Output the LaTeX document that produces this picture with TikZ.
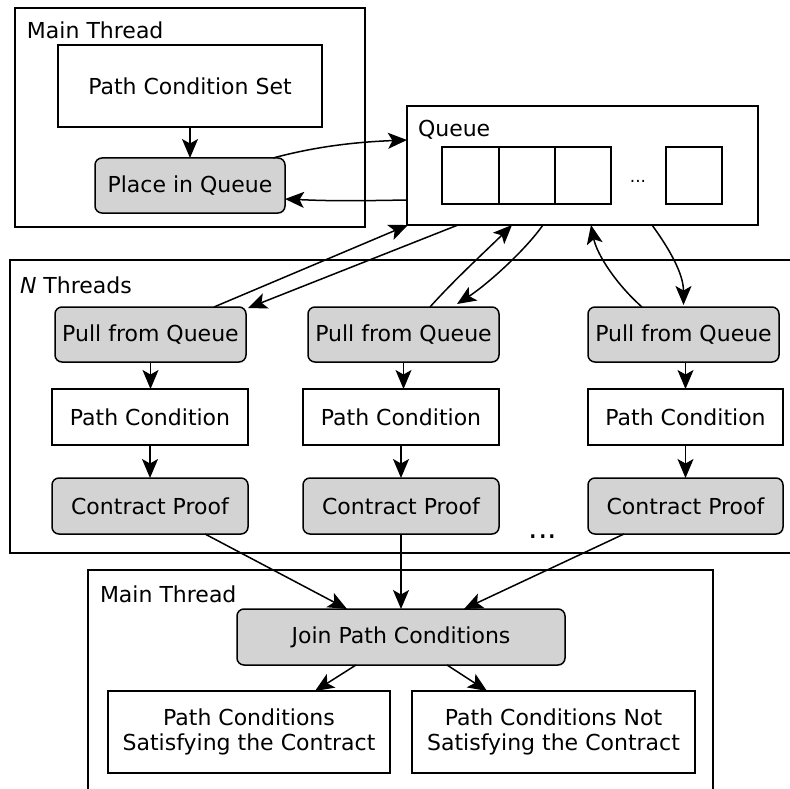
\documentclass[tikz,border=0pt]{standalone}
\usepackage{fontspec}
\setmainfont{DejaVu Sans}
\usetikzlibrary{arrows.meta}
\begin{document}
\begin{tikzpicture}[x=1pt,y=-1pt,
  every node/.style={inner sep=0pt,outer sep=0pt,font=\fontsize{22}{25}\selectfont},
  frame/.style={draw,line width=1.5pt,rectangle},
  wbox/.style={draw,line width=1.5pt,rectangle,fill=white,align=center},
  gbox/.style={draw,line width=1.5pt,rectangle,rounded corners=7pt,fill=gfill,align=center},
  cell/.style={draw,line width=1.5pt,rectangle,minimum width=56pt,minimum height=57pt},
  lbl/.style={anchor=base west},
  conn/.style={line width=1.5pt,-{Stealth[length=19pt,width=16pt,inset=4.5pt]}}
]
\definecolor{gfill}{RGB}{211,211,211}
\path[use as bounding box] (0,0) rectangle (790,789);
\clip (0,0) rectangle (790,789);
% frames
\node[frame,minimum width=350pt,minimum height=219pt] (mtop) at (190,117.5) {};
\node[frame,minimum width=800pt,minimum height=293pt] (nthr) at (410,406.5) {};
\node[frame,minimum width=625pt,minimum height=260pt] (mbot) at (400.5,700) {};
\node[frame,minimum width=351pt,minimum height=119pt] (queue) at (582.5,165.5) {};
% labels
\node[lbl] (lmtop) at (27,39) {Main Thread};
\node[lbl] (lqueue) at (418,137) {Queue};
\node[lbl] (lnthr) at (20,293) {\textit{N} Threads};
\node[lbl] (lmbot) at (100,602) {Main Thread};
% queue cells
\node[cell,minimum width=57pt] (c1) at (470.5,175.5) {};
\node[cell] (c2) at (527,175.5) {};
\node[cell] (c3) at (583,175.5) {};
\node[cell] (c4) at (694,175.5) {};
\node[font=\fontsize{17}{20}\selectfont] (qdots) at (638,181) {...};
% top main thread
\node[wbox,minimum width=264pt,minimum height=82pt] (pcs) at (190,86) {Path Condition Set};
\node[gbox,minimum width=190pt,minimum height=55pt] (place) at (190,185.5) {Place in Queue};
% threads
\node[gbox,minimum width=191pt,minimum height=55pt] (pull1) at (150.5,334.5) {Pull from Queue};
\node[gbox,minimum width=191pt,minimum height=55pt] (pull2) at (403.5,334.5) {Pull from Queue};
\node[gbox,minimum width=191pt,minimum height=55pt] (pull3) at (683.5,334.5) {Pull from Queue};
\node[wbox,minimum width=196pt,minimum height=56pt] (pc1) at (150,417) {Path Condition};
\node[wbox,minimum width=196pt,minimum height=56pt] (pc2) at (401,417) {Path Condition};
\node[wbox,minimum width=195pt,minimum height=56pt] (pc3) at (685.5,417) {Path Condition};
\node[gbox,minimum width=196pt,minimum height=56pt] (cp1) at (150,506) {Contract Proof};
\node[gbox,minimum width=196pt,minimum height=56pt] (cp2) at (401,506) {Contract Proof};
\node[gbox,minimum width=195pt,minimum height=56pt] (cp3) at (685.5,506) {Contract Proof};
\node[font=\fontsize{30}{34}\selectfont,anchor=base] (tdots) at (543,538) {...};
% bottom main thread
\node[gbox,minimum width=328pt,minimum height=56pt] (join) at (401,637) {Join Path Conditions};
\node[wbox,minimum width=282pt,minimum height=82pt] (sat) at (249,732) {Path Conditions\\Satisfying the Contract};
\node[wbox,minimum width=283pt,minimum height=82pt] (nsat) at (553.5,732) {Path Conditions Not\\Satisfying the Contract};
% connectors
\draw[conn] (pcs.south) -- (place.north);
\draw[conn] ([xshift=83pt]place.north) .. controls +(45,-12) and +(-50,2) .. ([yshift=25.5pt]queue.west);
\draw[conn] ([yshift=-34.5pt]queue.west) .. controls +(-55,1) and +(45,2) .. ([yshift=-13.5pt]place.east);
\draw[conn] ([xshift=63.5pt]pull1.north) -- ([xshift=1pt]queue.south west);
\draw[conn] ([xshift=51pt]queue.south west) -- ([xshift=2pt,yshift=-1pt]pull1.north east);
\draw[conn] ([xshift=26.5pt]pull2.north) .. controls +(25,-28) and +(-22,22) .. ([xshift=105pt]queue.south west);
\draw[conn] ([xshift=136pt]queue.south west) .. controls +(-20,28) and +(28,-18) .. ([xshift=53.5pt,yshift=3pt]pull2.north);
\draw[conn] ([xshift=-41.5pt]pull3.north) .. controls +(-25,-22) and +(6,30) .. ([xshift=184pt]queue.south west);
\draw[conn] ([xshift=245pt]queue.south west) .. controls +(16,22) and +(0,-32) .. ([yshift=2pt]pull3.north);
\draw[conn] (pull1.south) -- (pull1.south |- pc1.north);
\draw[conn] (pull2.south) -- (pull2.south |- pc2.north);
\draw[conn] ([xshift=2pt]pull3.south) -- ([xshift=2pt]pull3.south |- pc3.north);
\draw[conn] (pc1.south) -- (cp1.north);
\draw[conn] (pc2.south) -- (cp2.north);
\draw[conn] (pc3.south) -- (cp3.north);
\draw[conn] ([xshift=55pt]cp1.south) -- ([xshift=-54pt]join.north);
\draw[conn] (cp2.south) -- (join.north);
\draw[conn] ([xshift=-61.5pt]cp3.south) -- ([xshift=63pt]join.north);
\draw[conn] ([xshift=-45pt]join.south) -- ([xshift=66pt]sat.north);
\draw[conn] ([xshift=46pt]join.south) -- ([xshift=-66.5pt]nsat.north);
\end{tikzpicture}
\end{document}
